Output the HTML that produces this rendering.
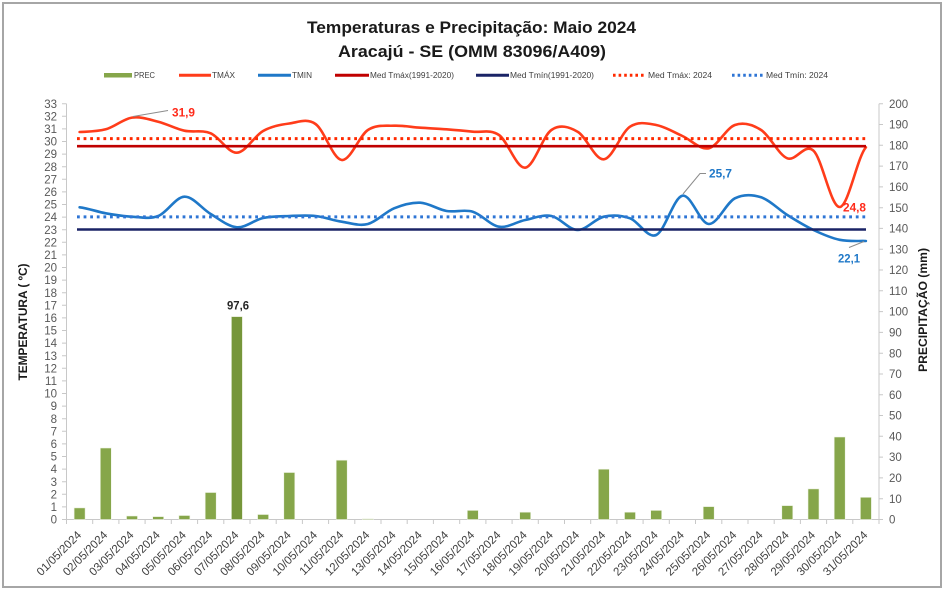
<!DOCTYPE html>
<html><head><meta charset="utf-8"><style>
html,body{margin:0;padding:0;background:#fff;}
svg{display:block;}
text{font-family:"Liberation Sans",Arial,sans-serif;}
</style></head><body>
<svg width="946" height="591" viewBox="0 0 946 591" xmlns="http://www.w3.org/2000/svg">
<rect x="0" y="0" width="946" height="591" fill="#fff"/>
<rect x="3" y="3" width="938" height="584" fill="#fff" stroke="#a6a6a6" stroke-width="2"/>

<!-- Titles -->
<text x="471.5" y="33" text-anchor="middle" font-size="17" font-weight="bold" fill="#1a1a1a" textLength="329" lengthAdjust="spacingAndGlyphs">Temperaturas e Precipitação: Maio 2024</text>
<text x="472" y="57" text-anchor="middle" font-size="17" font-weight="bold" fill="#1a1a1a" textLength="268" lengthAdjust="spacingAndGlyphs">Aracajú - SE (OMM 83096/A409)</text>

<!-- Legend -->
<g font-size="8" fill="#404040">
<rect x="104" y="73" width="28" height="4.5" fill="#86a64a"/>
<text x="134" y="78" textLength="21" lengthAdjust="spacingAndGlyphs">PREC</text>
<line x1="179" y1="75.3" x2="211" y2="75.3" stroke="#ff3c1a" stroke-width="3"/>
<text x="212" y="78" textLength="23" lengthAdjust="spacingAndGlyphs">TMÁX</text>
<line x1="258" y1="75.3" x2="291" y2="75.3" stroke="#1f78c8" stroke-width="3"/>
<text x="292" y="78" textLength="20" lengthAdjust="spacingAndGlyphs">TMIN</text>
<line x1="335" y1="75.3" x2="369" y2="75.3" stroke="#c00000" stroke-width="3"/>
<text x="370" y="78" textLength="84" lengthAdjust="spacingAndGlyphs">Med Tmáx(1991-2020)</text>
<line x1="476" y1="75.3" x2="509" y2="75.3" stroke="#1a2366" stroke-width="3"/>
<text x="510" y="78" textLength="84" lengthAdjust="spacingAndGlyphs">Med Tmín(1991-2020)</text>
<line x1="613" y1="75.3" x2="645" y2="75.3" stroke="#ff2a00" stroke-width="3" stroke-dasharray="2.6 3"/>
<text x="648" y="78" textLength="64" lengthAdjust="spacingAndGlyphs">Med Tmáx: 2024</text>
<line x1="732" y1="75.3" x2="764" y2="75.3" stroke="#2e75d5" stroke-width="3" stroke-dasharray="2.6 3"/>
<text x="766" y="78" textLength="62" lengthAdjust="spacingAndGlyphs">Med Tmín: 2024</text>
</g>

<!-- Axes -->
<g stroke="#c8c8c8" stroke-width="1" fill="none">
<line x1="66.5" y1="103.7" x2="66.5" y2="519.5"/>
<line x1="879" y1="103.7" x2="879" y2="519.5"/>
<line x1="66.5" y1="519.5" x2="879" y2="519.5"/>
<path d="M62 519.5H66.5M62 506.9H66.5M62 494.3H66.5M62 481.7H66.5M62 469.1H66.5M62 456.5H66.5M62 443.9H66.5M62 431.3H66.5M62 418.7H66.5M62 406.1H66.5M62 393.5H66.5M62 380.9H66.5M62 368.3H66.5M62 355.7H66.5M62 343.1H66.5M62 330.5H66.5M62 317.9H66.5M62 305.3H66.5M62 292.7H66.5M62 280.1H66.5M62 267.5H66.5M62 254.9H66.5M62 242.3H66.5M62 229.7H66.5M62 217.1H66.5M62 204.5H66.5M62 191.9H66.5M62 179.3H66.5M62 166.7H66.5M62 154.1H66.5M62 141.5H66.5M62 128.9H66.5M62 116.3H66.5M62 103.7H66.5"/>
<path d="M879 519.5H883M879 498.7H883M879 477.9H883M879 457.1H883M879 436.3H883M879 415.5H883M879 394.8H883M879 374H883M879 353.2H883M879 332.4H883M879 311.6H883M879 290.8H883M879 270H883M879 249.2H883M879 228.4H883M879 207.7H883M879 186.9H883M879 166.1H883M879 145.3H883M879 124.5H883M879 103.7H883"/>
<path d="M66.5 519.5V524M92.7 519.5V524M118.9 519.5V524M145.1 519.5V524M171.3 519.5V524M197.6 519.5V524M223.8 519.5V524M250 519.5V524M276.2 519.5V524M302.4 519.5V524M328.6 519.5V524M354.8 519.5V524M381 519.5V524M407.2 519.5V524M433.4 519.5V524M459.7 519.5V524M485.9 519.5V524M512.1 519.5V524M538.3 519.5V524M564.5 519.5V524M590.7 519.5V524M616.9 519.5V524M643.1 519.5V524M669.3 519.5V524M695.5 519.5V524M721.8 519.5V524M748 519.5V524M774.2 519.5V524M800.4 519.5V524M826.6 519.5V524M852.8 519.5V524M879 519.5V524"/>
</g>

<!-- Left tick labels -->
<g font-size="11.5" fill="#595959" text-anchor="end">
<text x="57" y="523.6">0</text><text x="57" y="511">1</text><text x="57" y="498.4">2</text><text x="57" y="485.8">3</text><text x="57" y="473.2">4</text><text x="57" y="460.6">5</text><text x="57" y="448">6</text><text x="57" y="435.4">7</text><text x="57" y="422.8">8</text><text x="57" y="410.2">9</text><text x="57" y="397.6">10</text><text x="57" y="385">11</text><text x="57" y="372.4">12</text><text x="57" y="359.8">13</text><text x="57" y="347.2">14</text><text x="57" y="334.6">15</text><text x="57" y="322">16</text><text x="57" y="309.4">17</text><text x="57" y="296.8">18</text><text x="57" y="284.2">19</text><text x="57" y="271.6">20</text><text x="57" y="259">21</text><text x="57" y="246.4">22</text><text x="57" y="233.8">23</text><text x="57" y="221.2">24</text><text x="57" y="208.6">25</text><text x="57" y="196">26</text><text x="57" y="183.4">27</text><text x="57" y="170.8">28</text><text x="57" y="158.2">29</text><text x="57" y="145.6">30</text><text x="57" y="133">31</text><text x="57" y="120.4">32</text><text x="57" y="107.8">33</text>
</g>
<!-- Right tick labels -->
<g font-size="11.5" fill="#595959" text-anchor="start">
<text x="889" y="523.6">0</text><text x="889" y="502.8">10</text><text x="889" y="482">20</text><text x="889" y="461.2">30</text><text x="889" y="440.4">40</text><text x="889" y="419.6">50</text><text x="889" y="398.9">60</text><text x="889" y="378.1">70</text><text x="889" y="357.3">80</text><text x="889" y="336.5">90</text><text x="889" y="315.7">100</text><text x="889" y="294.9">110</text><text x="889" y="274.1">120</text><text x="889" y="253.3">130</text><text x="889" y="232.5">140</text><text x="889" y="211.8">150</text><text x="889" y="191">160</text><text x="889" y="170.2">170</text><text x="889" y="149.4">180</text><text x="889" y="128.6">190</text><text x="889" y="107.8">200</text>
</g>

<!-- Axis titles -->
<text transform="translate(27,322) rotate(-90)" text-anchor="middle" font-size="12" font-weight="bold" fill="#1a1a1a" textLength="117" lengthAdjust="spacingAndGlyphs">TEMPERATURA  ( ºC)</text>
<text transform="translate(927,310) rotate(-90)" text-anchor="middle" font-size="12" font-weight="bold" fill="#1a1a1a" textLength="124" lengthAdjust="spacingAndGlyphs">PRECIPITAÇÃO  (mm)</text>

<!-- X labels -->
<g font-size="11.5" fill="#404040" text-anchor="end">
<text transform="translate(82,535.7) rotate(-45)">01/05/2024</text>
<text transform="translate(108.2,535.7) rotate(-45)">02/05/2024</text>
<text transform="translate(134.4,535.7) rotate(-45)">03/05/2024</text>
<text transform="translate(160.6,535.7) rotate(-45)">04/05/2024</text>
<text transform="translate(186.8,535.7) rotate(-45)">05/05/2024</text>
<text transform="translate(213.1,535.7) rotate(-45)">06/05/2024</text>
<text transform="translate(239.3,535.7) rotate(-45)">07/05/2024</text>
<text transform="translate(265.5,535.7) rotate(-45)">08/05/2024</text>
<text transform="translate(291.7,535.7) rotate(-45)">09/05/2024</text>
<text transform="translate(317.9,535.7) rotate(-45)">10/05/2024</text>
<text transform="translate(344.1,535.7) rotate(-45)">11/05/2024</text>
<text transform="translate(370.3,535.7) rotate(-45)">12/05/2024</text>
<text transform="translate(396.5,535.7) rotate(-45)">13/05/2024</text>
<text transform="translate(422.7,535.7) rotate(-45)">14/05/2024</text>
<text transform="translate(449,535.7) rotate(-45)">15/05/2024</text>
<text transform="translate(475.2,535.7) rotate(-45)">16/05/2024</text>
<text transform="translate(501.4,535.7) rotate(-45)">17/05/2024</text>
<text transform="translate(527.6,535.7) rotate(-45)">18/05/2024</text>
<text transform="translate(553.8,535.7) rotate(-45)">19/05/2024</text>
<text transform="translate(580,535.7) rotate(-45)">20/05/2024</text>
<text transform="translate(606.2,535.7) rotate(-45)">21/05/2024</text>
<text transform="translate(632.4,535.7) rotate(-45)">22/05/2024</text>
<text transform="translate(658.6,535.7) rotate(-45)">23/05/2024</text>
<text transform="translate(684.8,535.7) rotate(-45)">24/05/2024</text>
<text transform="translate(711.1,535.7) rotate(-45)">25/05/2024</text>
<text transform="translate(737.3,535.7) rotate(-45)">26/05/2024</text>
<text transform="translate(763.5,535.7) rotate(-45)">27/05/2024</text>
<text transform="translate(789.7,535.7) rotate(-45)">28/05/2024</text>
<text transform="translate(815.9,535.7) rotate(-45)">29/05/2024</text>
<text transform="translate(842.1,535.7) rotate(-45)">30/05/2024</text>
<text transform="translate(868.3,535.7) rotate(-45)">31/05/2024</text>
</g>

<!-- Bars -->
<g fill="#86a64a" stroke="#eef3e4" stroke-width="0.6">
<rect x="74.1" y="507.9" width="11" height="11.6"/>
<rect x="100.3" y="448" width="11" height="71.5"/>
<rect x="126.5" y="516" width="11" height="3.5"/>
<rect x="152.7" y="516.6" width="11" height="2.9"/>
<rect x="178.9" y="515.5" width="11" height="4"/>
<rect x="205.2" y="492.5" width="11" height="27"/>
<rect x="231.4" y="316.6" width="11" height="202.9" fill="#76963a"/>
<rect x="257.6" y="514.5" width="11" height="5"/>
<rect x="283.8" y="472.5" width="11" height="47"/>
<rect x="336.2" y="460.2" width="11" height="59.3"/>
<rect x="362.4" y="518.7" width="11" height="0.8"/>
<rect x="467.3" y="510.4" width="11" height="9.1"/>
<rect x="519.7" y="512.2" width="11" height="7.3"/>
<rect x="598.3" y="469.2" width="11" height="50.3"/>
<rect x="624.5" y="512.2" width="11" height="7.3"/>
<rect x="650.7" y="510.4" width="11" height="9.1"/>
<rect x="703.2" y="506.6" width="11" height="12.9"/>
<rect x="781.8" y="505.6" width="11" height="13.9"/>
<rect x="808" y="488.9" width="11" height="30.6"/>
<rect x="834.2" y="437" width="11" height="82.5"/>
<rect x="860.4" y="497.3" width="11" height="22.2"/>
</g>

<!-- Temperature curves -->
<path fill="none" stroke="#ff3c1a" stroke-width="2.6" stroke-linejoin="round" stroke-linecap="round" d="M79.6,132 C88.3,131.55 97.1,131.7 105.8,129.3 C114.5,126.9 123.3,118.87 132,117.6 C140.7,116.33 149.5,119.52 158.2,121.7 C166.9,123.88 175.7,128.77 184.4,130.7 C193.1,132.63 202,129.63 210.7,133.3 C219.4,136.97 228.2,153.08 236.9,152.7 C245.6,152.32 254.4,135.87 263.1,131 C271.8,126.13 280.6,124.67 289.3,123.5 C298,122.33 306.8,117.92 315.5,124 C324.2,130.08 333,159 341.7,160 C350.4,161 359.2,135.72 367.9,130 C376.6,124.28 385.4,126.08 394.1,125.7 C402.8,125.32 411.6,127.1 420.3,127.7 C429,128.3 437.9,128.63 446.6,129.3 C455.3,129.97 464.1,130.75 472.8,131.7 C481.5,132.65 490.3,129 499,135 C507.7,141 516.5,168.53 525.2,167.7 C533.9,166.87 542.7,136 551.4,130 C560.1,124 568.9,126.82 577.6,131.7 C586.3,136.58 595.1,160.13 603.8,159.3 C612.5,158.47 621.3,132.42 630,126.7 C638.7,120.98 647.5,123.45 656.2,125 C664.9,126.55 673.7,132.12 682.4,136 C691.1,139.88 700,150.13 708.7,148.3 C717.4,146.47 726.2,128.05 734.9,125 C743.6,121.95 752.4,124.45 761.1,130 C769.8,135.55 778.6,154.85 787.3,158.3 C796,161.75 804.8,142.58 813.5,150.7 C822.2,158.82 831,207.57 839.7,207 C848.4,206.43 857.2,157.25 865.9,147.3"/>
<path fill="none" stroke="#1f78c8" stroke-width="2.6" stroke-linejoin="round" stroke-linecap="round" d="M79.6,207.3 C88.3,208.3 97.1,211.73 105.8,213.3 C114.5,214.87 123.3,216.25 132,216.7 C140.7,217.15 149.5,219.33 158.2,216 C166.9,212.67 175.7,197.03 184.4,196.7 C193.1,196.37 202,208.9 210.7,214 C219.4,219.1 228.2,226.63 236.9,227.3 C245.6,227.97 254.4,219.88 263.1,218 C271.8,216.12 280.6,216.33 289.3,216 C298,215.67 306.8,215.05 315.5,216 C324.2,216.95 333,220.37 341.7,221.7 C350.4,223.03 359.2,226.23 367.9,224 C376.6,221.77 385.4,211.85 394.1,208.3 C402.8,204.75 411.6,202.25 420.3,202.7 C429,203.15 437.9,209.5 446.6,211 C455.3,212.5 464.1,209.08 472.8,211.7 C481.5,214.32 490.3,225.32 499,226.7 C507.7,228.08 516.5,221.78 525.2,220 C533.9,218.22 542.7,214.33 551.4,216 C560.1,217.67 568.9,229.88 577.6,230 C586.3,230.12 595.1,218.65 603.8,216.7 C612.5,214.75 621.3,215.25 630,218.3 C638.7,221.35 647.5,238.77 656.2,235 C664.9,231.23 673.7,197.53 682.4,195.7 C691.1,193.87 700,223.57 708.7,224 C717.4,224.43 726.2,202.75 734.9,198.3 C743.6,193.85 752.4,194.52 761.1,197.3 C769.8,200.08 778.6,209.55 787.3,215 C796,220.45 804.8,225.87 813.5,230 C822.2,234.13 831,237.97 839.7,239.8 C848.4,241.63 857.2,240.8 865.9,241"/>

<!-- Reference lines -->
<line x1="77" y1="138.6" x2="866" y2="138.6" stroke="#ff2a00" stroke-width="3" stroke-dasharray="2.8 3.8"/>
<line x1="77" y1="216.9" x2="866" y2="216.9" stroke="#2e75d5" stroke-width="3" stroke-dasharray="2.8 3.8"/>
<line x1="77" y1="146.2" x2="866" y2="146.2" stroke="#c00000" stroke-width="2.6"/>
<line x1="77" y1="229.5" x2="866" y2="229.5" stroke="#1a2366" stroke-width="2.6"/>

<!-- Leader lines -->
<g stroke="#8c8c8c" stroke-width="1" fill="none">
<path d="M133,116.5 L168,110.5"/>
<path d="M683,194 L700,173.5 L706,173.5"/>
<path d="M864,241.5 L849,247.5"/>
</g>

<!-- Data labels -->
<g font-size="12" font-weight="bold">
<text x="172" y="116.5" fill="#ff2a1a" textLength="23" lengthAdjust="spacingAndGlyphs">31,9</text>
<text x="227" y="309.5" fill="#262626" textLength="22" lengthAdjust="spacingAndGlyphs">97,6</text>
<text x="709" y="177.5" fill="#1f78c8" textLength="23" lengthAdjust="spacingAndGlyphs">25,7</text>
<text x="843" y="211.5" fill="#ff2a1a" textLength="23" lengthAdjust="spacingAndGlyphs">24,8</text>
<text x="838" y="262.5" fill="#1f78c8" textLength="22" lengthAdjust="spacingAndGlyphs">22,1</text>
</g>
</svg>
</body></html>
